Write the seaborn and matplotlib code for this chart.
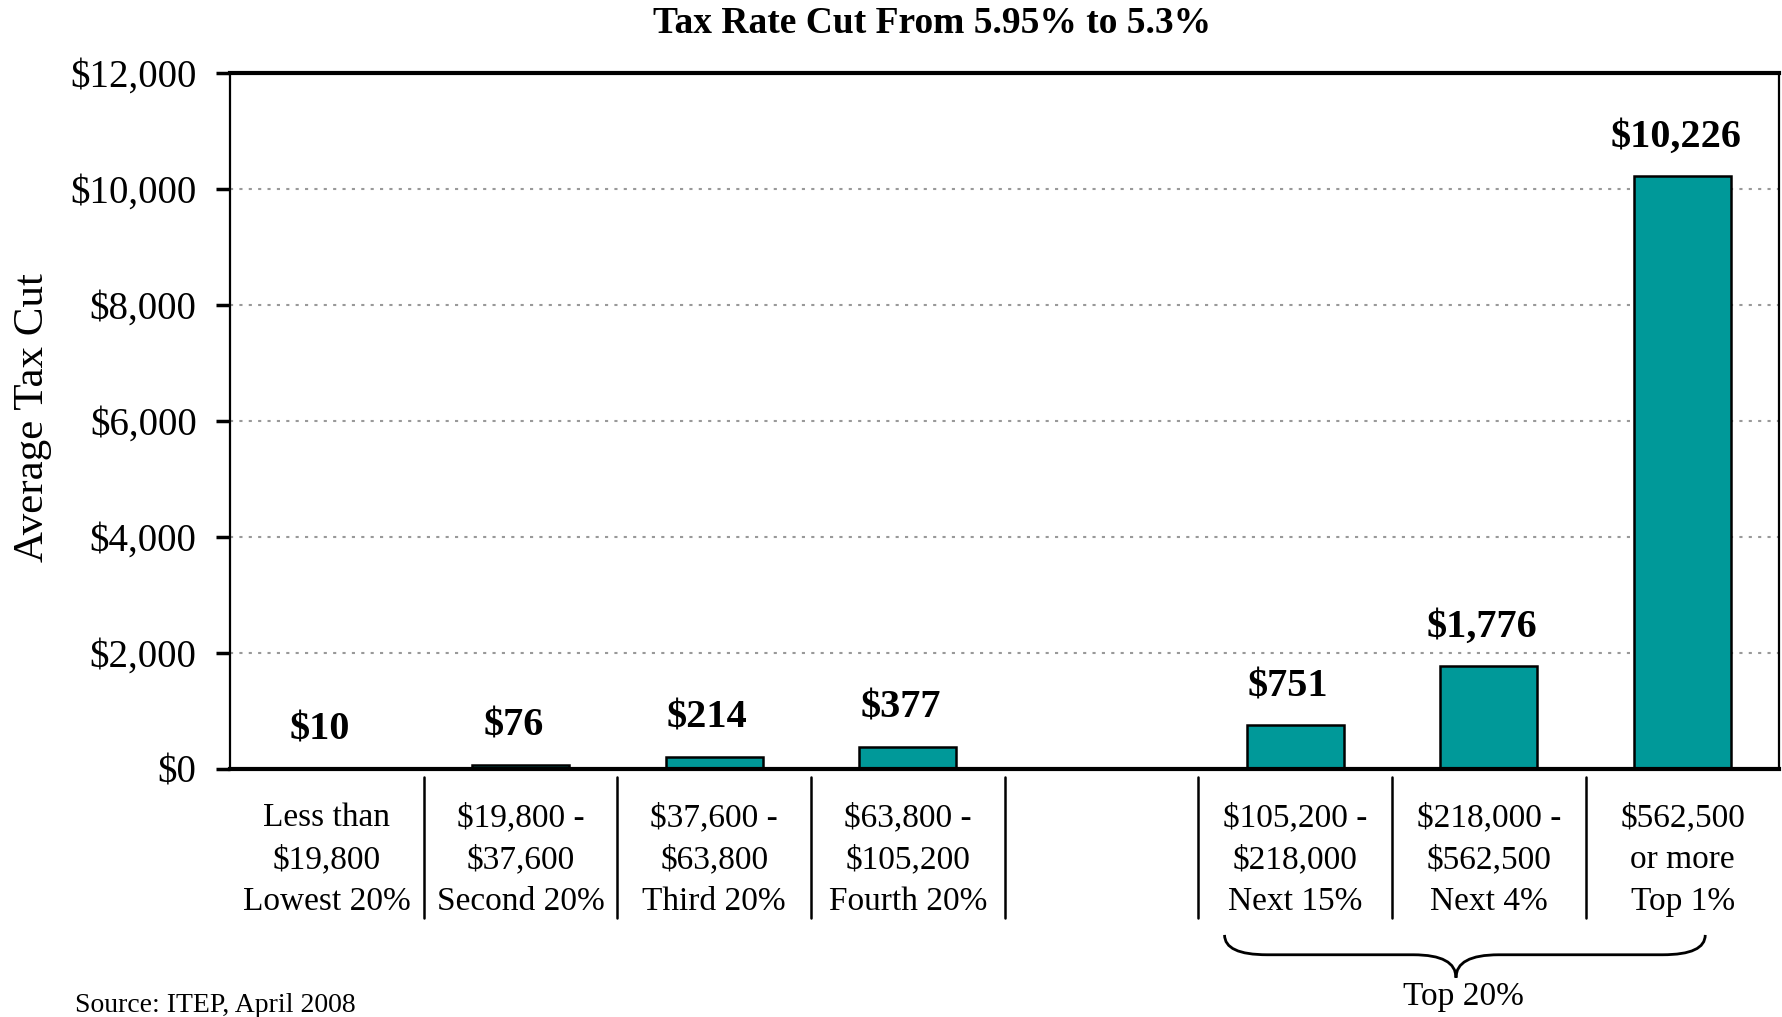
import matplotlib
matplotlib.use("Agg")
import matplotlib.pyplot as plt
from matplotlib.path import Path
from matplotlib.patches import PathPatch
from matplotlib.ticker import StrMethodFormatter
import seaborn as sns
import pandas as pd

# data
groups = ["Lowest 20%", "Second 20%", "Third 20%", "Fourth 20%",
          "Next 15%", "Next 4%", "Top 1%"]
tax_cut = [10, 76, 214, 377, 751, 1776, 10226]
# empty slot between the bottom 80% and the top 20%
order = ["Lowest 20%", "Second 20%", "Third 20%", "Fourth 20%", "gap",
         "Next 15%", "Next 4%", "Top 1%"]
tick_labels = ["Less than\n$19,800\nLowest 20%",
               "$19,800 -\n$37,600\nSecond 20%",
               "$37,600 -\n$63,800\nThird 20%",
               "$63,800 -\n$105,200\nFourth 20%",
               "",
               "$105,200 -\n$218,000\nNext 15%",
               "$218,000 -\n$562,500\nNext 4%",
               "$562,500\nor more\nTop 1%"]
y_ticks = [0, 2000, 4000, 6000, 8000, 10000, 12000]

df = pd.DataFrame({"group": groups, "cut": tax_cut})

sns.set_style("white")
plt.rcParams["font.family"] = ["Liberation Serif", "DejaVu Serif"]
plt.rcParams["text.parse_math"] = False
plt.rcParams["text.color"] = "black"
plt.rcParams["axes.labelcolor"] = "black"
plt.rcParams["xtick.color"] = "black"
plt.rcParams["ytick.color"] = "black"

fig = plt.figure(figsize=(17.83, 10.17), dpi=100)
ax = fig.add_axes([0.129, 0.2439, 0.869, 0.6843])

sns.barplot(data=df, x="group", y="cut", order=order, color="#009999",
            saturation=1, width=0.5, edgecolor="black", linewidth=1.8, ax=ax)

ax.set_ylim(0, 12000)
ax.set_xlim(-0.5, 7.5)
ax.set_yticks(y_ticks)
ax.yaxis.set_major_formatter(StrMethodFormatter("${x:,.0f}"))
ax.tick_params(axis="y", labelsize=28, length=10, width=2.5, direction="out",
               left=True, pad=14, colors="black")
ax.set_xticks(range(len(order)))
ax.set_xticklabels(tick_labels, fontsize=24, linespacing=1.5)
ax.tick_params(axis="x", length=0, pad=24)
ax.set_xlabel("")
ax.set_ylabel("")

ax.grid(axis="y", color="#999999", linestyle=(0, (1.5, 3)), linewidth=1.5)
ax.grid(axis="x", visible=False)
ax.set_axisbelow(True)

for side in ["top", "bottom"]:
    ax.spines[side].set_linewidth(3)
for side in ["left", "right"]:
    ax.spines[side].set_linewidth(1.6)
for s in ax.spines.values():
    s.set_color("black")
    s.set_visible(True)

# value labels
for g, v in zip(groups, tax_cut):
    ax.annotate(f"${v:,}", (order.index(g), v), xytext=(-5, 21),
                textcoords="offset points", ha="center", va="baseline",
                fontsize=29, fontweight="bold")

# separators between category labels
trans = ax.get_xaxis_transform()
for b in [0.5, 1.5, 2.5, 3.5, 4.5, 5.5, 6.5]:
    ax.plot([b, b], [-0.0115, -0.214], color="black", lw=1.8,
            transform=trans, clip_on=False)

# curly brace under the top 20%
x0, x1, xm, r = 4.635, 7.117, 5.83, 0.22
yt, ym, yb = -0.2385, -0.267, -0.30
verts = [(x0, yt), (x0, ym), (x0 + r, ym),
         (xm - r, ym),
         (xm, ym), (xm, yb),
         (xm, ym), (xm + r, ym),
         (x1 - r, ym),
         (x1, ym), (x1, yt)]
codes = [Path.MOVETO, Path.CURVE3, Path.CURVE3,
         Path.LINETO,
         Path.CURVE3, Path.CURVE3,
         Path.CURVE3, Path.CURVE3,
         Path.LINETO,
         Path.CURVE3, Path.CURVE3]
ax.add_patch(PathPatch(Path(verts, codes), fill=False, lw=2, color="black",
                       transform=trans, clip_on=False))
ax.text(5.87, -0.328, "Top 20%", transform=trans, ha="center", va="center",
        fontsize=24)

fig.text(0.523, 0.977, "Tax Rate Cut From 5.95% to 5.3%", ha="center",
         va="center", fontsize=27, fontweight="bold")
fig.text(0.0185, 0.589, "Average Tax Cut", rotation=90, ha="center",
         va="center", fontsize=31)
fig.text(0.042, 0.011, "Source: ITEP, April 2008", ha="left", va="center",
         fontsize=20)

fig.savefig("out.png", dpi=100)
